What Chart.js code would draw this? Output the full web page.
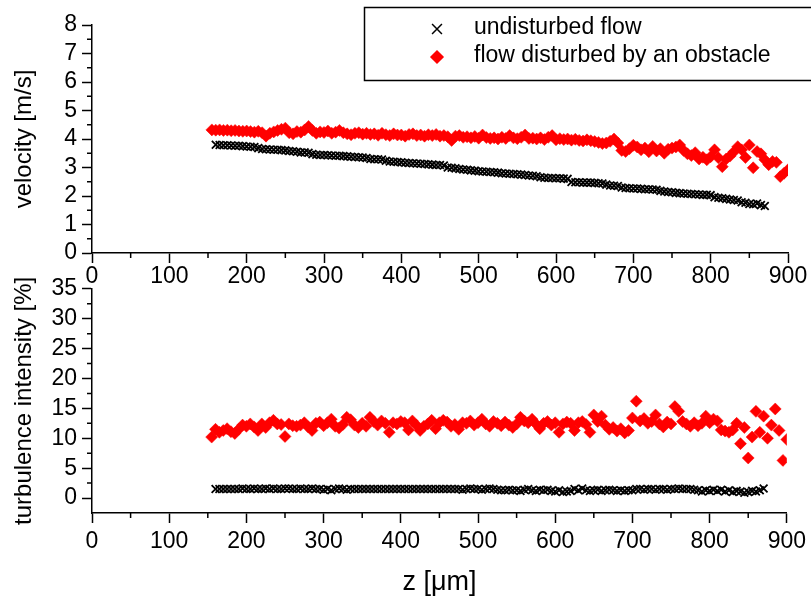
<!DOCTYPE html>
<html>
<head>
<meta charset="utf-8">
<script src="https://cdn.jsdelivr.net/npm/chart.js@4.4.1/dist/chart.umd.min.js"></script>
<style>
  html, body { margin: 0; padding: 0; background: #fff; }
  #wrap { position: relative; width: 811px; height: 600px; overflow: hidden; }
  canvas { position: absolute; left: 0; }
  #bottomChart { top: 270px; }
  #topChart { top: 0; }
</style>
</head>
<body>
<div id="wrap">
  <canvas id="bottomChart" width="811" height="330"></canvas>
  <canvas id="topChart" width="811" height="300"></canvas>
</div>
<script>
// Velocity and turbulence intensity along z, with and without an obstacle

// z positions [um]
const zUndisturbed = [
  160,165,170,175,180,185,190,195,200,205,
  210,215,220,225,230,235,240,245,250,255,
  260,265,270,275,280,285,290,295,300,305,
  310,315,320,325,330,335,340,345,350,355,
  360,365,370,375,380,385,390,395,400,405,
  410,415,420,425,430,435,440,445,450,455,
  460,465,470,475,480,485,490,495,500,505,
  510,515,520,525,530,535,540,545,550,555,
  560,565,570,575,580,585,590,595,600,605,
  610,615,620,625,630,635,640,645,650,655,
  660,665,670,675,680,685,690,695,700,705,
  710,715,720,725,730,735,740,745,750,755,
  760,765,770,775,780,785,790,795,800,805,
  810,815,820,825,830,835,840,845,850,855,
  860,865,870
];
const zDisturbed = [
  155,160,165,170,175,180,185,190,195,200,
  205,210,215,220,225,230,235,240,245,250,
  255,260,265,270,275,280,285,290,295,300,
  305,310,315,320,325,330,335,340,345,350,
  355,360,365,370,375,380,385,390,395,400,
  405,410,415,420,425,430,435,440,445,450,
  455,460,465,470,475,480,485,490,495,500,
  505,510,515,520,525,530,535,540,545,550,
  555,560,565,570,575,580,585,590,595,600,
  605,610,615,620,625,630,635,640,645,650,
  655,660,665,670,675,680,685,690,695,700,
  705,710,715,720,725,730,735,740,745,750,
  755,760,765,770,775,780,785,790,795,800,
  805,810,815,820,825,830,835,840,845,850,
  855,860,865,870,875,880,885,890,895,900
];

// velocity [m/s]
const velUndisturbed = [
  3.80,3.79,3.78,3.78,3.77,3.76,3.76,3.75,3.74,3.73,
  3.72,3.68,3.65,3.64,3.63,3.62,3.62,3.61,3.60,3.58,
  3.57,3.55,3.53,3.53,3.52,3.47,3.45,3.44,3.44,3.43,
  3.42,3.41,3.41,3.40,3.39,3.38,3.37,3.36,3.35,3.33,
  3.30,3.29,3.29,3.28,3.24,3.21,3.20,3.19,3.18,3.17,
  3.16,3.15,3.14,3.13,3.12,3.11,3.10,3.09,3.09,3.07,
  3.00,2.99,2.97,2.95,2.93,2.92,2.90,2.89,2.87,2.86,
  2.85,2.84,2.83,2.82,2.80,2.79,2.78,2.77,2.76,2.75,
  2.74,2.72,2.71,2.69,2.66,2.64,2.63,2.63,2.62,2.62,
  2.61,2.60,2.49,2.48,2.48,2.47,2.47,2.47,2.46,2.45,
  2.44,2.40,2.37,2.36,2.35,2.30,2.28,2.27,2.26,2.26,
  2.25,2.24,2.24,2.23,2.22,2.18,2.16,2.14,2.13,2.11,
  2.10,2.09,2.08,2.07,2.06,2.05,2.04,2.04,2.03,1.96,
  1.94,1.92,1.90,1.88,1.86,1.84,1.78,1.76,1.72,1.71,
  1.74,1.68,1.65
];
const velDisturbed = [
  4.32,4.31,4.32,4.30,4.31,4.29,4.30,4.28,4.27,4.28,
  4.26,4.24,4.27,4.22,4.10,4.20,4.25,4.30,4.34,4.38,
  4.22,4.18,4.26,4.24,4.32,4.44,4.30,4.20,4.25,4.23,
  4.28,4.20,4.24,4.30,4.22,4.18,4.15,4.20,4.22,4.17,
  4.20,4.16,4.18,4.13,4.20,4.15,4.12,4.18,4.14,4.14,
  4.10,4.16,4.18,4.12,4.14,4.10,4.15,4.12,4.16,4.10,
  4.12,4.08,3.95,4.10,4.12,4.06,4.08,4.04,4.09,4.03,
  4.14,4.05,4.02,4.04,4.00,4.06,4.02,4.12,4.04,4.01,
  4.06,4.14,4.02,4.03,4.00,4.04,3.98,4.06,4.12,3.97,
  4.01,3.98,4.00,3.96,3.99,3.95,3.93,3.97,3.94,3.91,
  3.88,3.84,3.86,3.92,4.00,3.86,3.60,3.56,3.66,3.78,
  3.72,3.62,3.68,3.55,3.74,3.58,3.66,3.50,3.64,3.68,
  3.72,3.79,3.60,3.48,3.42,3.52,3.30,3.36,3.27,3.38,
  3.62,3.34,3.03,3.30,3.40,3.55,3.73,3.62,3.35,3.79,
  2.99,3.56,3.48,3.27,3.10,3.21,3.18,2.68,2.80,2.92
];

// turbulence intensity [%]
const tiUndisturbed = [
  1.5,1.5,1.5,1.5,1.5,1.5,1.5,1.6,1.5,1.5,
  1.6,1.5,1.5,1.6,1.5,1.6,1.5,1.5,1.6,1.6,
  1.5,1.5,1.6,1.5,1.5,1.6,1.5,1.5,1.4,1.5,
  1.3,1.5,1.6,1.5,1.4,1.5,1.5,1.5,1.5,1.5,
  1.5,1.5,1.5,1.5,1.5,1.5,1.5,1.5,1.5,1.5,
  1.5,1.5,1.5,1.5,1.5,1.5,1.5,1.5,1.5,1.5,
  1.5,1.5,1.5,1.5,1.4,1.5,1.6,1.5,1.5,1.4,
  1.5,1.6,1.5,1.4,1.3,1.3,1.4,1.3,1.3,1.2,
  1.4,1.5,1.3,1.2,1.4,1.3,1.4,1.2,1.1,1.3,
  1.0,1.1,1.2,1.5,1.3,1.6,1.3,1.2,1.3,1.4,
  1.2,1.3,1.4,1.3,1.2,1.3,1.2,1.3,1.3,1.5,
  1.5,1.4,1.5,1.5,1.4,1.5,1.5,1.4,1.5,1.5,
  1.6,1.5,1.5,1.5,1.4,1.3,1.1,1.3,1.2,1.4,
  1.2,1.4,1.1,1.3,1.0,1.2,1.1,0.9,1.0,1.2,
  1.1,1.3,1.6
];
const tiDisturbed = [
  10.2,11.5,11.0,11.3,11.6,11.1,10.8,11.5,12.2,12.0,
  12.4,11.9,11.3,12.4,11.8,12.6,13.0,12.4,12.3,10.3,
  12.4,12.1,12.0,12.2,12.6,11.9,11.3,12.5,12.7,12.1,
  12.6,13.2,12.0,11.7,12.3,13.5,13.1,12.2,11.8,12.5,
  12.0,13.5,12.8,12.2,12.9,12.5,11.0,12.6,12.4,12.8,
  12.6,11.4,12.9,12.2,11.3,12.0,12.4,13.0,11.6,12.6,
  13.0,12.7,12.0,12.3,11.5,12.6,12.5,12.9,12.2,12.6,
  13.2,12.4,12.0,12.8,12.5,12.1,12.7,12.2,11.8,12.4,
  13.5,12.9,12.6,13.2,12.4,11.6,12.5,12.8,12.2,12.6,
  11.0,12.4,12.7,12.5,11.3,12.6,12.8,12.3,11.0,13.9,
  12.8,13.7,12.2,11.5,11.8,11.2,11.6,10.9,11.3,13.4,
  16.2,12.9,13.3,12.5,12.8,13.9,12.4,11.9,12.7,12.4,
  15.3,14.5,12.8,12.4,12.0,12.6,12.1,12.5,13.7,12.6,
  13.2,12.9,11.4,11.2,11.0,11.4,12.5,9.1,11.8,6.7,
  10.2,14.5,11.0,13.7,10.0,12.2,14.9,11.3,6.3,9.8
];

// ticks
const xTicks = [0,100,200,300,400,500,600,700,800,900];
const xMinor = [50,150,250,350,450,550,650,750,850];
const velTicks = [0,1,2,3,4,5,6,7,8];
const velMinor = [0.5,1.5,2.5,3.5,4.5,5.5,6.5,7.5];
const tiTicks = [0,5,10,15,20,25,30,35];
const tiMinor = [2.5,7.5,12.5,17.5,22.5,27.5,32.5];

const seriesLabels = ["undisturbed flow", "flow disturbed by an obstacle"];

const FONT = "'Liberation Sans', Arial, Helvetica, sans-serif";
Chart.defaults.color = "#000";
Chart.defaults.font.family = FONT;

function pts(xs, ys) {
  return xs.map((x, i) => ({ x: x, y: ys[i] }));
}

function datasets(yU, yD) {
  return [
    {
      label: seriesLabels[0],
      data: pts(zUndisturbed, yU),
      pointStyle: "crossRot",
      pointRadius: 5.5,
      pointBorderWidth: 1.8,
      borderColor: "#000",
      backgroundColor: "#000",
      showLine: false
    },
    {
      label: seriesLabels[1],
      data: pts(zDisturbed, yD),
      pointStyle: "rectRot",
      pointRadius: 6,
      pointBorderWidth: 0.5,
      borderColor: "#ff0000",
      backgroundColor: "#ff0000",
      showLine: false
    }
  ];
}

// short minor ticks, drawn through the scales
function minorTicks(xm, ym) {
  return {
    id: "minorTicks",
    afterDraw(chart) {
      const ctx = chart.ctx;
      const xs = chart.scales.x, ys = chart.scales.y;
      ctx.save();
      ctx.strokeStyle = "#000";
      ctx.lineWidth = 1.5;
      ctx.beginPath();
      xm.forEach(v => {
        const p = xs.getPixelForValue(v);
        ctx.moveTo(p, xs.top);
        ctx.lineTo(p, xs.top + 5);
      });
      ym.forEach(v => {
        const p = ys.getPixelForValue(v);
        ctx.moveTo(ys.right - 5, p);
        ctx.lineTo(ys.right, p);
      });
      ctx.stroke();
      ctx.restore();
    }
  };
}

// boxed legend in the top panel
const boxLegend = {
  id: "boxLegend",
  afterDraw(chart) {
    const ctx = chart.ctx;
    ctx.save();
    ctx.strokeStyle = "#000";
    ctx.lineWidth = 1.5;
    ctx.strokeRect(364.5, 7.5, 460, 73);
    const rows = [29, 57];
    chart.data.datasets.forEach((ds, i) => {
      ctx.strokeStyle = ds.borderColor;
      ctx.fillStyle = ds.backgroundColor;
      Chart.helpers.drawPoint(ctx, {
        pointStyle: ds.pointStyle,
        radius: i === 0 ? 7 : 6,
        borderWidth: i === 0 ? 1.6 : 0.5,
        rotation: 0
      }, 437, rows[i]);
      ctx.fillStyle = "#000";
      ctx.font = "23px " + FONT;
      ctx.textBaseline = "middle";
      ctx.textAlign = "left";
      ctx.fillText(ds.label, 474, rows[i] - 1);
    });
    ctx.restore();
  }
};

function axisCommon(ticks, labelPad) {
  return {
    border: { display: true, color: "#000", width: 1.5 },
    grid: { drawOnChartArea: false, drawTicks: true, tickLength: 10, tickColor: "#000", tickWidth: 1.5 },
    ticks: { font: { size: 23 }, padding: labelPad, color: "#000", autoSkip: false, maxRotation: 0 },
    afterBuildTicks: s => { s.ticks = ticks.map(v => ({ value: v })); }
  };
}

function makeChart(id, opts) {
  const xAxis = axisCommon(xTicks, opts.xPad);
  xAxis.type = "linear";
  xAxis.min = 0;
  xAxis.max = 900;
  xAxis.afterFit = s => { s.height = opts.xHeight; };
  if (opts.xTitle) {
    xAxis.title = { display: true, text: opts.xTitle, font: { size: 27 }, padding: { top: 0, bottom: 1 } };
  }
  const yAxis = axisCommon(opts.yTicks, 5);
  yAxis.min = opts.yMin;
  yAxis.max = opts.yMax;
  yAxis.afterFit = s => { s.width = 92; };
  yAxis.title = { display: true, text: opts.yTitle, font: { size: 24 }, padding: { top: 10, bottom: 0 } };

  return new Chart(document.getElementById(id), {
    type: "scatter",
    data: { datasets: datasets(opts.yU, opts.yD) },
    options: {
      responsive: false,
      animation: false,
      events: [],
      layout: { padding: opts.padding },
      plugins: { legend: { display: false }, tooltip: { enabled: false } },
      scales: { x: xAxis, y: yAxis }
    },
    plugins: opts.plugins
  });
}

makeChart("bottomChart", {
  yU: tiUndisturbed, yD: tiDisturbed,
  yMin: -2.5, yMax: 35, yTicks: tiTicks,
  yTitle: "turbulence intensity [%]",
  xTitle: "z [\u03bcm]",
  xPad: 5, xHeight: 87,
  padding: { left: 0, right: 23, top: 16, bottom: 0 },
  plugins: [minorTicks(xMinor, tiMinor)]
});

makeChart("topChart", {
  yU: velUndisturbed, yD: velDisturbed,
  yMin: 0, yMax: 8, yTicks: velTicks,
  yTitle: "velocity [m/s]",
  xPad: 0, xHeight: 47,
  padding: { left: 0, right: 23, top: 25, bottom: 0 },
  plugins: [minorTicks(xMinor, velMinor), boxLegend]
});
</script>
</body>
</html>
